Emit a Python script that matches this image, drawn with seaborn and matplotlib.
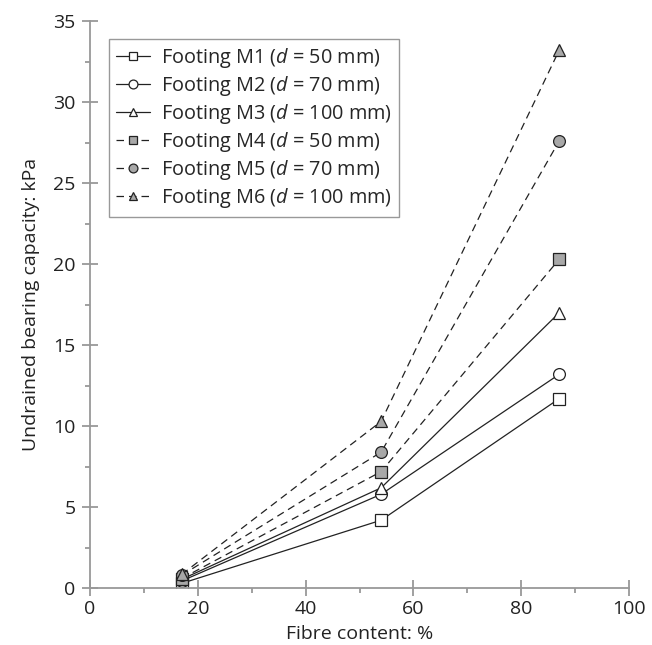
import matplotlib
matplotlib.use("Agg")
import matplotlib.pyplot as plt
from matplotlib.ticker import MultipleLocator
import seaborn as sns
import pandas as pd

fibre = [17, 54, 87]
labels = ["Footing M1 ($d$ = 50 mm)", "Footing M2 ($d$ = 70 mm)", "Footing M3 ($d$ = 100 mm)",
          "Footing M4 ($d$ = 50 mm)", "Footing M5 ($d$ = 70 mm)", "Footing M6 ($d$ = 100 mm)"]
m1 = [0.3, 4.2, 11.7]
m2 = [0.45, 5.8, 13.2]
m3 = [0.55, 6.2, 17.0]
m4 = [0.6, 7.2, 20.3]
m5 = [0.8, 8.4, 27.6]
m6 = [0.85, 10.3, 33.2]
series = [m1, m2, m3, m4, m5, m6]

markers = ["s", "o", "^", "s", "o", "^"]
faces = ["white", "white", "white", "#a8a8a8", "#a8a8a8", "#a8a8a8"]
styles = ["-", "-", "-", (0, (6, 4)), (0, (6, 4)), (0, (6, 4))]

sns.set_style("white")
plt.rcParams["font.family"] = ["Open Sans", "DejaVu Sans"]
plt.rcParams["mathtext.fontset"] = "custom"
plt.rcParams["mathtext.it"] = "Open Sans:italic"
plt.rcParams["mathtext.rm"] = "Open Sans"

fig = plt.figure(figsize=(6.52, 6.45), dpi=100)
ax = fig.add_axes([0.138, 0.088, 0.827, 0.879])

for lab, vals, mk, fc, ls in zip(labels, series, markers, faces, styles):
    df = pd.DataFrame({"x": fibre, "y": vals})
    sns.lineplot(data=df, x="x", y="y", ax=ax, color="#222222", linewidth=0.9,
                 linestyle=ls, marker=mk, markersize=8.5, markerfacecolor=fc,
                 markeredgecolor="#222222", markeredgewidth=0.9, label=lab)

ax.set_xlim(0, 100)
ax.set_ylim(0, 35)
ax.xaxis.set_major_locator(MultipleLocator(20))
ax.xaxis.set_minor_locator(MultipleLocator(10))
ax.yaxis.set_major_locator(MultipleLocator(5))
ax.yaxis.set_minor_locator(MultipleLocator(2.5))
ax.set_xlabel("Fibre content: %", fontsize=14, color="#222222", labelpad=5)
ax.set_ylabel("Undrained bearing capacity: kPa", fontsize=14, color="#222222", labelpad=9)
for s in ["top", "right"]:
    ax.spines[s].set_visible(False)
for s in ["left", "bottom"]:
    ax.spines[s].set_color("#999999")
    ax.spines[s].set_linewidth(1.3)
ax.tick_params(axis="both", which="major", direction="inout", length=11, width=1.3,
               color="#999999", labelsize=14, labelcolor="#222222",
               bottom=True, left=True)
ax.tick_params(axis="x", which="major", pad=3)
ax.tick_params(axis="y", which="major", pad=5)
ax.tick_params(axis="both", which="minor", direction="out", length=3.5, width=1.3,
               color="#999999", bottom=True, left=True)

leg = ax.legend(loc="upper left", bbox_to_anchor=(0.035, 0.968), fontsize=14.3,
                frameon=True, fancybox=False, framealpha=1, edgecolor="#999999",
                handlelength=1.7, handletextpad=0.6, borderpad=0.35, labelspacing=0.2,
                markerscale=0.75, borderaxespad=0)
leg.get_frame().set_linewidth(1.0)

fig.savefig("out.png", dpi=100)
